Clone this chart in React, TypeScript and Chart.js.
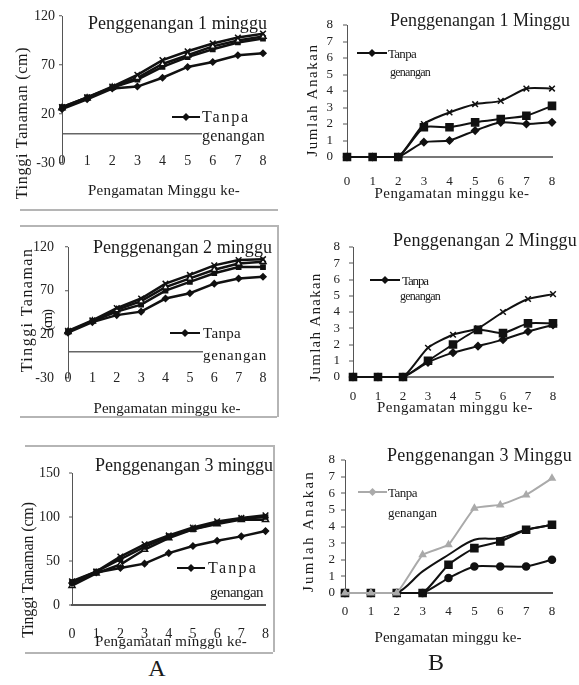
import React, { useEffect, useRef } from "react";
import { Chart, registerables } from "chart.js";

Chart.register(...registerables);

const FONT = "'Liberation Serif', 'Times New Roman', serif";

// ---------- data ----------
const weeks = [0, 1, 2, 3, 4, 5, 6, 7, 8];

// A: Tinggi Tanaman (cm)
const tinggi1Tanpa = [25, 35, 46, 48, 57, 68, 73, 80, 82];
const tinggi1SeriA = [27, 37, 48, 60, 75, 84, 92, 98, 102];
const tinggi1SeriB = [26, 36, 47, 57, 71, 80, 89, 95, 99];
const tinggi1SeriC = [27, 37, 47, 55, 68, 78, 86, 93, 97];

const tinggi2Tanpa = [22, 34, 42, 46, 61, 67, 78, 84, 86];
const tinggi2SeriA = [24, 36, 50, 61, 78, 88, 99, 105, 106];
const tinggi2SeriB = [23, 35, 48, 58, 74, 84, 94, 101, 103];
const tinggi2SeriC = [23, 35, 46, 54, 70, 80, 90, 97, 97];

const tinggi3Tanpa = [25, 37, 42, 47, 59, 67, 73, 78, 84];
const tinggi3SeriA = [27, 38, 55, 69, 79, 88, 95, 99, 102];
const tinggi3SeriB = [26, 38, 52, 66, 78, 86, 93, 98, 100];
const tinggi3SeriC = [22, 36, 46, 63, 76, 86, 92, 97, 97];

// B: Jumlah Anakan
const anakan1Tanpa = [0, 0, 0, 0.9, 1.0, 1.6, 2.1, 2.0, 2.1];
const anakan1SeriA = [0, 0, 0, 2.0, 2.7, 3.2, 3.4, 4.15, 4.15];
const anakan1SeriB = [0, 0, 0, 1.8, 1.8, 2.1, 2.3, 2.5, 3.1];

const anakan2Tanpa = [0, 0, 0, 0.9, 1.5, 1.9, 2.3, 2.8, 3.2];
const anakan2SeriA = [0, 0, 0, 1.8, 2.6, 3.0, 4.0, 4.8, 5.1];
const anakan2SeriB = [0, 0, 0, 1.0, 2.0, 2.9, 2.7, 3.3, 3.3];

const anakan3Tanpa = [0, 0, 0, 2.3, 2.9, 5.1, 5.3, 5.9, 6.9];
const anakan3SeriA = [0, 0, 0, 1.3, 2.3, 3.2, 3.3, 3.8, 4.1];
const anakan3SeriB = [0, 0, 0, 0, 1.7, 2.7, 3.1, 3.8, 4.1];
const anakan3SeriC = [0, 0, 0, 0, 0.9, 1.6, 1.6, 1.6, 2.0];

// ---------- chart panel ----------
type Series = {
  label: string;
  data: number[];
  color: string;
  style: string | false;
  radius: number;
  fill: string;
  tension: number;
  width: number;
};

type PanelCfg = {
  box: [number, number, number, number];
  area: [number, number, number, number];
  yMin: number;
  yMax: number;
  yStep: number;
  zeroLine: boolean;
  tickSize: number;
  xMirror: boolean;
  xPad: number;
  yPad: number;
  yTick: number;
  axisColor: string;
  axisWidth: number;
  series: Series[];
};

function LineChart({ cfg }: { cfg: PanelCfg }) {
  const ref = useRef<HTMLCanvasElement>(null);
  const [bx, by, bw, bh] = cfg.box;
  useEffect(() => {
    const [l, r, t, b] = cfg.area;
    const tickFont = { family: FONT, size: cfg.tickSize, lineHeight: 1.2 };
    const chart = new Chart(ref.current as HTMLCanvasElement, {
      type: "line",
      data: {
        datasets: cfg.series.map((s) => ({
          label: s.label,
          data: weeks.map((w, i) => ({ x: w, y: s.data[i] })),
          borderColor: s.color,
          backgroundColor: s.fill,
          pointBorderColor: s.color,
          pointBackgroundColor: s.fill,
          pointStyle: s.style as any,
          pointRadius: s.style ? s.radius : 0,
          pointBorderWidth: 1.5,
          borderWidth: s.width,
          tension: s.tension,
          clip: false as any,
        })),
      },
      options: {
        animation: false,
        responsive: true,
        maintainAspectRatio: false,
        layout: { padding: { left: 0, top: t - by, right: bx + bw - r, bottom: 0 } },
        plugins: { legend: { display: false }, tooltip: { enabled: false } },
        scales: {
          x: {
            type: "linear",
            min: 0,
            max: 8,
            ticks: {
              stepSize: 1,
              font: tickFont,
              color: "#222",
              padding: cfg.xPad,
              mirror: cfg.xMirror,
              autoSkip: false,
              maxRotation: 0,
            },
            grid: { display: false, drawTicks: false },
            border: { display: !cfg.zeroLine, color: cfg.axisColor, width: cfg.axisWidth },
            afterFit: (s: any) => {
              s.height = by + bh - b;
            },
          },
          y: {
            type: "linear",
            min: cfg.yMin,
            max: cfg.yMax,
            ticks: {
              stepSize: cfg.yStep,
              font: tickFont,
              color: "#222",
              padding: cfg.yPad,
              autoSkip: false,
              callback: (v: any) => (cfg.zeroLine && v === 0 ? "" : String(v)),
            },
            afterBuildTicks: (s: any) => {
              if (cfg.zeroLine) {
                const ticks = s.ticks.slice();
                ticks.push({ value: 0 });
                ticks.sort((a: any, c: any) => a.value - c.value);
                s.ticks = ticks;
              }
            },
            grid: {
              color: (ctx: any) =>
                cfg.zeroLine && ctx.tick && ctx.tick.value === 0 ? cfg.axisColor : "rgba(0,0,0,0)",
              lineWidth: cfg.axisWidth,
              drawTicks: true,
              tickLength: cfg.yTick,
              tickColor: (ctx: any) =>
                cfg.zeroLine && ctx.tick && ctx.tick.value === 0 ? "rgba(0,0,0,0)" : "#555",
              tickWidth: 1,
            },
            border: { display: true, color: "#555", width: 1 },
            afterFit: (s: any) => {
              s.width = l - bx;
            },
          },
        },
      } as any,
    });
    return () => chart.destroy();
  }, [cfg]);
  return (
    <div style={{ position: "absolute", left: bx, top: by, width: bw, height: bh }}>
      <canvas ref={ref} />
    </div>
  );
}

// ---------- text helpers ----------
let measureCtx: CanvasRenderingContext2D | null = null;
function spacingFor(text: string, size: number, target: number) {
  if (!measureCtx) measureCtx = document.createElement("canvas").getContext("2d");
  if (!measureCtx) return 0;
  measureCtx.font = `${size}px ${FONT}`;
  const w = measureCtx.measureText(text).width;
  return (target - w) / text.length;
}

function Label(props: {
  x: number;
  y: number;
  text: string;
  size: number;
  width?: number;
  anchor?: "start" | "middle";
  rotate?: boolean;
  color?: string;
  bg?: string;
}) {
  const { x, y, text, size, width, anchor = "start", rotate = false, color = "#1a1a1a", bg } = props;
  const ls = width ? spacingFor(text, size, width) : 0;
  const style: React.CSSProperties = {
    position: "absolute",
    left: x,
    top: y,
    fontFamily: FONT,
    fontSize: size,
    lineHeight: 1,
    whiteSpace: "nowrap",
    color,
    letterSpacing: ls,
    background: bg,
    transform: rotate
      ? "translate(-50%, -50%) rotate(-90deg)"
      : anchor === "middle"
      ? "translate(-50%, -50%)"
      : "translateY(-50%)",
  };
  return <div style={style}>{text}</div>;
}

function LegendSample({ x1, x2, y, color }: { x1: number; x2: number; y: number; color: string }) {
  const w = x2 - x1;
  const c = w / 2;
  return (
    <svg
      style={{ position: "absolute", left: x1, top: y - 6, overflow: "visible" }}
      width={w}
      height={12}
    >
      <line x1={0} y1={6} x2={w} y2={6} stroke={color} strokeWidth={2} />
      <polygon points={`${c},2 ${c + 4},6 ${c},10 ${c - 4},6`} fill={color} />
    </svg>
  );
}

function Line({ x, y, w, h }: { x: number; y: number; w: number; h: number }) {
  return <div style={{ position: "absolute", left: x, top: y, width: w, height: h, background: "#b5b5b5" }} />;
}

// ---------- panel configs ----------
const K = "#111";
const mk = (
  label: string,
  data: number[],
  style: string | false,
  radius: number,
  fill: string,
  tension: number,
  width: number,
  color = K
): Series => ({ label, data, style, radius, fill, tension, width, color });

const panels: PanelCfg[] = [
  {
    box: [0, 0, 290, 212],
    area: [62, 263, 16, 163],
    yMin: -30, yMax: 120, yStep: 50, zeroLine: true, tickSize: 14,
    xMirror: true, xPad: -7, yPad: 4, yTick: 3, axisColor: "#666", axisWidth: 1.5,
    series: [
      mk("Tanpa genangan", tinggi1Tanpa, "rectRot", 3, K, 0, 2.5),
      mk("Perlakuan A", tinggi1SeriA, "crossRot", 4, K, 0, 2.5),
      mk("Perlakuan B", tinggi1SeriB, "triangle", 3.5, "#fff", 0, 2.5),
      mk("Perlakuan C", tinggi1SeriC, "rect", 3, K, 0, 2.5),
    ],
  },
  {
    box: [0, 215, 290, 212],
    area: [68, 263, 247, 378],
    yMin: -30, yMax: 120, yStep: 50, zeroLine: true, tickSize: 14,
    xMirror: true, xPad: -9, yPad: 11, yTick: 3, axisColor: "#666", axisWidth: 1.5,
    series: [
      mk("Tanpa genangan", tinggi2Tanpa, "rectRot", 3, K, 0, 2.5),
      mk("Perlakuan A", tinggi2SeriA, "crossRot", 4, K, 0, 2.5),
      mk("Perlakuan B", tinggi2SeriB, "triangle", 3.5, "#fff", 0, 2.5),
      mk("Perlakuan C", tinggi2SeriC, "rect", 3, K, 0, 2.5),
    ],
  },
  {
    box: [0, 430, 290, 225],
    area: [72, 267, 473, 605],
    yMin: 0, yMax: 150, yStep: 50, zeroLine: false, tickSize: 14,
    xMirror: false, xPad: 21, yPad: 9, yTick: 3, axisColor: "#555", axisWidth: 2,
    series: [
      mk("Tanpa genangan", tinggi3Tanpa, "rectRot", 3, K, 0, 2.5),
      mk("Perlakuan A", tinggi3SeriA, "crossRot", 4, K, 0, 2.5),
      mk("Perlakuan B", tinggi3SeriB, "rect", 3, K, 0, 2.5),
      mk("Perlakuan C", tinggi3SeriC, "triangle", 3.5, "#fff", 0, 2.5),
    ],
  },
  {
    box: [290, 0, 289, 212],
    area: [347, 552, 25, 157],
    yMin: 0, yMax: 8, yStep: 1, zeroLine: false, tickSize: 13,
    xMirror: false, xPad: 17, yPad: 10, yTick: 4, axisColor: "#777", axisWidth: 2,
    series: [
      mk("Tanpa genangan", anakan1Tanpa, "rectRot", 3.5, K, 0.2, 2),
      mk("Perlakuan A", anakan1SeriA, "crossRot", 4, K, 0.2, 2),
      mk("Perlakuan B", anakan1SeriB, "rect", 5, K, 0.2, 2),
    ],
  },
  {
    box: [290, 215, 289, 212],
    area: [353, 553, 247, 377],
    yMin: 0, yMax: 8, yStep: 1, zeroLine: false, tickSize: 13,
    xMirror: false, xPad: 12, yPad: 9, yTick: 4, axisColor: "#777", axisWidth: 2,
    series: [
      mk("Tanpa genangan", anakan2Tanpa, "rectRot", 3.5, K, 0.2, 2),
      mk("Perlakuan A", anakan2SeriA, "crossRot", 4, K, 0.2, 2),
      mk("Perlakuan B", anakan2SeriB, "rect", 5, K, 0.2, 2),
    ],
  },
  {
    box: [290, 430, 289, 225],
    area: [345, 552, 460, 593],
    yMin: 0, yMax: 8, yStep: 1, zeroLine: false, tickSize: 13,
    xMirror: false, xPad: 11, yPad: 6, yTick: 4, axisColor: "#555", axisWidth: 2,
    series: [
      mk("Tanpa genangan", anakan3Tanpa, "triangle", 3.5, "#aaa", 0.1, 2, "#aaa"),
      mk("Perlakuan A", anakan3SeriA, false, 0, K, 0.35, 2),
      mk("Perlakuan B", anakan3SeriB, "rect", 5, K, 0.2, 2),
      mk("Perlakuan C", anakan3SeriC, "circle", 3.5, K, 0.2, 2),
    ],
  },
];

export default function App() {
  return (
    <div
      style={{
        position: "absolute",
        left: 0,
        top: 0,
        width: 579,
        height: 685,
        background: "#fff",
        overflow: "hidden",
      }}
    >
      {panels.map((p, i) => (
        <LineChart key={i} cfg={p} />
      ))}

      {/* frames */}
      <Line x={20} y={209} w={258} h={1.5} />
      <Line x={20} y={225} w={257} h={1.5} />
      <Line x={277} y={225} w={1.5} h={192} />
      <Line x={20} y={416} w={257} h={1.5} />
      <Line x={25} y={445} w={248} h={1.5} />
      <Line x={273} y={445} w={1.5} h={207} />
      <Line x={25} y={652} w={248} h={1.5} />

      {/* panel titles */}
      <Label x={88} y={23} text="Penggenangan 1 minggu" size={18} width={179} />
      <Label x={93} y={247} text="Penggenangan 2 minggu" size={18} width={179} />
      <Label x={95} y={465} text="Penggenangan 3 minggu" size={18} width={178} />
      <Label x={390} y={20} text="Penggenangan 1 Minggu" size={18} width={180} />
      <Label x={393} y={240} text="Penggenangan 2 Minggu" size={18} width={184} />
      <Label x={387} y={455} text="Penggenangan 3 Minggu" size={18} width={185} />

      {/* y titles */}
      <Label x={22} y={123} text="Tinggi Tanaman (cm)" size={16} width={153} rotate />
      <Label x={27} y={310} text="Tinggi Tanaman" size={16} width={125} rotate />
      <Label x={47} y={321} text="(cm)" size={15} width={20} rotate />
      <Label x={28} y={570} text="Tinggi Tanaman (cm)" size={16} width={136} rotate />
      <Label x={312} y={100} text="Jumlah Anakan" size={15} width={114} rotate />
      <Label x={315} y={327} text="Jumlah Anakan" size={15} width={110} rotate />
      <Label x={308} y={531} text="Jumlah Anakan" size={15} width={123} rotate />

      {/* x titles */}
      <Label x={164} y={190} text="Pengamatan Minggu ke-" size={15} width={152} anchor="middle" />
      <Label x={167} y={408} text="Pengamatan minggu ke-" size={15} width={147} anchor="middle" />
      <Label x={171} y={641} text="Pengamatan minggu ke-" size={15} width={152} anchor="middle" />
      <Label x={452} y={193} text="Pengamatan minggu ke-" size={15} width={155} anchor="middle" />
      <Label x={455} y={407} text="Pengamatan minggu ke-" size={15} width={156} anchor="middle" />
      <Label x={448} y={637} text="Pengamatan minggu ke-" size={15} width={147} anchor="middle" />

      {/* legends */}
      <LegendSample x1={172} x2={200} y={117} color={K} />
      <Label x={202} y={117} text="Tanpa" size={16} width={48} />
      <Label x={202} y={136} text="genangan" size={16} width={63} bg="#fff" />

      <LegendSample x1={170} x2={200} y={333} color={K} />
      <Label x={203} y={333} text="Tanpa" size={15} width={38} />
      <Label x={203} y={355} text="genangan" size={15} width={64} bg="#fff" />

      <LegendSample x1={177} x2={205} y={568} color={K} />
      <Label x={208} y={568} text="Tanpa" size={16} width={50} />
      <Label x={210} y={592} text="genangan" size={15} width={53} />

      <LegendSample x1={357} x2={387} y={53} color={K} />
      <Label x={388} y={53} text="Tanpa" size={13} width={28} />
      <Label x={390} y={72} text="genangan" size={12} width={40} />

      <LegendSample x1={370} x2={400} y={280} color={K} />
      <Label x={402} y={280} text="Tanpa" size={13} width={26} />
      <Label x={400} y={296} text="genangan" size={12} width={40} />

      <LegendSample x1={358} x2={387} y={492} color="#aaa" />
      <Label x={388} y={492} text="Tanpa" size={13} width={29} />
      <Label x={388} y={512} text="genangan" size={13} width={49} />

      {/* figure letters */}
      <Label x={157} y={668} text="A" size={24} anchor="middle" />
      <Label x={436} y={662} text="B" size={24} anchor="middle" />
    </div>
  );
}
